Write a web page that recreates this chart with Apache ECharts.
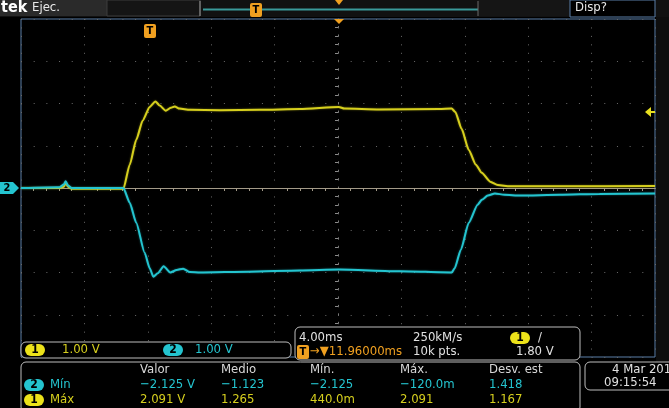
<!DOCTYPE html>
<html>
<head>
<meta charset="utf-8">
<script src="https://cdn.jsdelivr.net/npm/echarts@6/dist/echarts.min.js"></script>
<style>
  html, body { margin: 0; padding: 0; background: #000; }
  #scope { width: 669px; height: 408px; }
</style>
</head>
<body>
<div id="scope"></div>
<script>
// time in ms relative to screen centre, 4 ms/div
const ch1Time = [-20, -17.56, -17.3, -17.18, -17.04, -16.8, -13.54, -13.14, -12.73, -12.32, -11.88, -11.52, -11.25, -10.87, -10.55, -10.3, -10.0, -9.35, -7.46, -4.94, -2.4, 0.05, 0.4, 2.6, 6.4, 7.17, 7.4, 7.8, 8.25, 8.7, 9.07, 9.6, 10.08, 10.84, 14, 20];
const ch1Volts = [0, 0, 0.03, 0.12, 0.03, -0.02, -0.02, 0.55, 1.14, 1.6, 1.92, 2.05, 1.95, 1.83, 1.9, 1.93, 1.88, 1.85, 1.84, 1.85, 1.87, 1.92, 1.88, 1.86, 1.87, 1.88, 1.8, 1.4, 0.9, 0.55, 0.36, 0.15, 0.07, 0.04, 0.04, 0.05];
const ch2Time = [-20, -17.56, -17.3, -17.18, -17.04, -16.8, -13.54, -13.14, -12.73, -12.2, -11.88, -11.65, -11.37, -11.0, -10.58, -10.18, -9.77, -9.35, -8.7, -5.6, -2.4, 0.05, 3.9, 7.17, 7.36, 7.75, 8.25, 8.8, 9.07, 9.45, 9.9, 10.5, 11.5, 14, 16.5, 20];
const ch2Volts = [0, 0.02, 0.08, 0.16, 0.06, 0, 0, -0.35, -0.82, -1.53, -1.9, -2.1, -2.02, -1.85, -2.0, -1.94, -1.91, -1.99, -2.0, -1.98, -1.95, -1.93, -1.97, -2.0, -1.9, -1.46, -0.82, -0.4, -0.28, -0.18, -0.13, -0.16, -0.18, -0.16, -0.14, -0.13];

const YEL = '#d6cf1e';
const CYA = '#24c4cf';
const ORG = '#f0a020';
const FONT = '"Liberation Sans Narrow", "DejaVu Sans Condensed", sans-serif';

const chart = echarts.init(document.getElementById('scope'));

function txt(x, y, s, color, extra) {
  return Object.assign({
    type: 'text', x: x, y: y, z: 50,
    style: { text: s, fill: color, font: '13px ' + FONT, verticalAlign: 'middle' }
  }, extra || {});
}
function pill(x, y, n, color) {
  return {
    type: 'group', x: x, y: y, z: 50,
    children: [
      { type: 'rect', shape: { x: 0, y: -6, width: 20, height: 12, r: 6 }, style: { fill: color }, z: 50 },
      { type: 'text', x: 10, y: 0, z: 51, style: { text: n, fill: '#000', font: 'bold 12px ' + FONT, align: 'center', verticalAlign: 'middle' } }
    ]
  };
}
function box(x, y, w, h) {
  return { type: 'rect', z: 40, shape: { x: x, y: y, width: w, height: h, r: 5 },
    style: { fill: '#000', stroke: '#bdbdbd', lineWidth: 1 } };
}
function tMark(x, y) {
  return {
    type: 'group', x: x, y: y, z: 50,
    children: [
      { type: 'rect', shape: { x: -6, y: -7, width: 12, height: 14, r: 2 }, style: { fill: ORG }, z: 50 },
      { type: 'text', x: 0, y: 0, z: 51, style: { text: 'T', fill: '#000', font: 'bold 11px ' + FONT, align: 'center', verticalAlign: 'middle' } }
    ]
  };
}

const option = {
  backgroundColor: '#000',
  animation: false,
  grid: { left: 21, top: 19, width: 634, height: 338, show: true, borderColor: '#5b7fa8', borderWidth: 1, backgroundColor: '#000' },
  xAxis: {
    type: 'value', min: -20, max: 20, interval: 4,
    axisLine: { show: true, onZero: true, lineStyle: { color: '#a39a88', width: 1 } },
    axisTick: { show: false },
    minorTick: { show: true, splitNumber: 5, length: 3, lineStyle: { color: '#a39a88' } },
    axisLabel: { show: false },
    splitLine: { show: true, lineStyle: { color: '#6a6a6a', type: [1, 7.45], width: 1 } }
  },
  yAxis: {
    type: 'value', min: -4, max: 4, interval: 1,
    axisLine: { show: true, onZero: true, lineStyle: { color: '#7a7a7a', type: [1, 7.45] } },
    axisTick: { show: false },
    minorTick: { show: true, splitNumber: 5, length: 3, lineStyle: { color: '#8a8a8a' } },
    axisLabel: { show: false },
    splitLine: { show: true, lineStyle: { color: '#6a6a6a', type: [1, 11.68], width: 1 } }
  },
  series: [
    {
      type: 'line', name: 'CH1', showSymbol: false, smooth: 0.2, smoothMonotone: 'x', z: 5,
      data: ch1Time.map((t, i) => [t, ch1Volts[i]]),
      lineStyle: { color: YEL, width: 2, shadowColor: 'rgba(214,207,30,0.5)', shadowBlur: 2 }
    },
    {
      type: 'line', name: 'CH2', showSymbol: false, smooth: 0.2, smoothMonotone: 'x', z: 6,
      data: ch2Time.map((t, i) => [t, ch2Volts[i]]),
      lineStyle: { color: CYA, width: 2, shadowColor: 'rgba(36,196,207,0.5)', shadowBlur: 2 }
    }
  ],
  graphic: [
    // top status bar
    { type: 'rect', z: 30, shape: { x: 0, y: 0, width: 669, height: 17 }, style: { fill: '#111' } },
    { type: 'rect', z: 31, shape: { x: 0, y: 0, width: 107, height: 16 }, style: { fill: '#2a2a2a' } },
    txt(1, 8, 'tek', '#fff', { style: { text: 'tek', fill: '#fff', font: 'bold 16px ' + FONT, verticalAlign: 'middle' } }),
    txt(32, 8, 'Ejec.', '#e8e8e8'),
    { type: 'rect', z: 31, shape: { x: 107, y: 0, width: 93, height: 16 }, style: { fill: '#151515', stroke: '#3c3c3c' } },
    { type: 'line', z: 32, shape: { x1: 200, y1: 1, x2: 200, y2: 16 }, style: { stroke: '#9a9a9a', lineWidth: 1 } },
    { type: 'line', z: 32, shape: { x1: 203, y1: 9.5, x2: 478, y2: 9.5 }, style: { stroke: '#3a9a9a', lineWidth: 2 } },
    { type: 'line', z: 32, shape: { x1: 478, y1: 1, x2: 478, y2: 16 }, style: { stroke: '#6a6a6a', lineWidth: 1 } },
    { type: 'rect', z: 31, shape: { x: 478, y: 0, width: 92, height: 16 }, style: { fill: '#151515' } },
    { type: 'rect', z: 31, shape: { x: 570, y: 0, width: 85, height: 17 }, style: { fill: '#000', stroke: '#5b7fa8' } },
    txt(575, 8, 'Disp?', '#e8e8e8'),
    tMark(256, 10),
    { type: 'polygon', z: 33, shape: { points: [[335, 0], [343, 0], [339, 5]] }, style: { fill: ORG } },
    // right side strip
    { type: 'rect', z: 30, shape: { x: 656, y: 17, width: 13, height: 345 }, style: { fill: '#0d0d0d' } },
    // trigger position & level markers
    tMark(150, 31),
    { type: 'polygon', z: 33, shape: { points: [[334, 19], [344, 19], [339, 24]] }, style: { fill: ORG } },
    { type: 'polygon', z: 33, shape: { points: [[645, 112], [651, 107], [651, 117]] }, style: { fill: '#e8e020' } },
    { type: 'line', z: 33, shape: { x1: 650, y1: 112, x2: 655, y2: 112 }, style: { stroke: '#e8e020', lineWidth: 2 } },
    // channel 2 ground marker
    { type: 'group', x: 0, y: 188, z: 50, children: [
      { type: 'polygon', z: 50, shape: { points: [[0, -6], [13, -6], [19, 0], [13, 6], [0, 6]] }, style: { fill: CYA } },
      { type: 'text', x: 7, y: 0, z: 51, style: { text: '2', fill: '#000', font: 'bold 11px ' + FONT, align: 'center', verticalAlign: 'middle' } }
    ] },
    // vertical settings
    box(21, 342, 270, 16),
    pill(25, 350, '1', '#ece21a'),
    txt(62, 350, '1.00 V', YEL),
    pill(163, 350, '2', CYA),
    txt(195, 350, '1.00 V', CYA),
    // horizontal / trigger
    box(295, 327, 285, 33),
    txt(299, 338, '4.00ms', '#e0e0e0'),
    txt(413, 338, '250kM/s', '#e0e0e0'),
    pill(510, 338, '1', '#ece21a'),
    txt(538, 338, '/', '#e0e0e0'),
    tMark(303, 352),
    txt(310, 352, '\u2192\u25BC11.96000ms', ORG),
    txt(413, 352, '10k pts.', '#e0e0e0'),
    txt(516, 352, '1.80 V', '#e0e0e0'),
    // measurements
    box(21, 362, 559, 50),
    txt(140, 370, 'Valor', '#d8d8d8'),
    txt(221, 370, 'Medio', '#d8d8d8'),
    txt(310, 370, 'Mín.', '#d8d8d8'),
    txt(400, 370, 'Máx.', '#d8d8d8'),
    txt(489, 370, 'Desv. est', '#d8d8d8'),
    pill(24, 385, '2', CYA),
    txt(50, 385, 'Mín', CYA),
    txt(140, 385, '\u22122.125 V', CYA),
    txt(221, 385, '\u22121.123', CYA),
    txt(310, 385, '\u22122.125', CYA),
    txt(400, 385, '\u2212120.0m', CYA),
    txt(489, 385, '1.418', CYA),
    pill(24, 400, '1', '#ece21a'),
    txt(50, 400, 'Máx', YEL),
    txt(140, 400, '2.091 V', YEL),
    txt(221, 400, '1.265', YEL),
    txt(310, 400, '440.0m', YEL),
    txt(400, 400, '2.091', YEL),
    txt(489, 400, '1.167', YEL),
    // date
    box(585, 362, 90, 28),
    txt(612, 370, '4 Mar 2019', '#e0e0e0'),
    txt(604, 383, '09:15:54', '#e0e0e0')
  ]
};

chart.setOption(option);
</script>
</body>
</html>
